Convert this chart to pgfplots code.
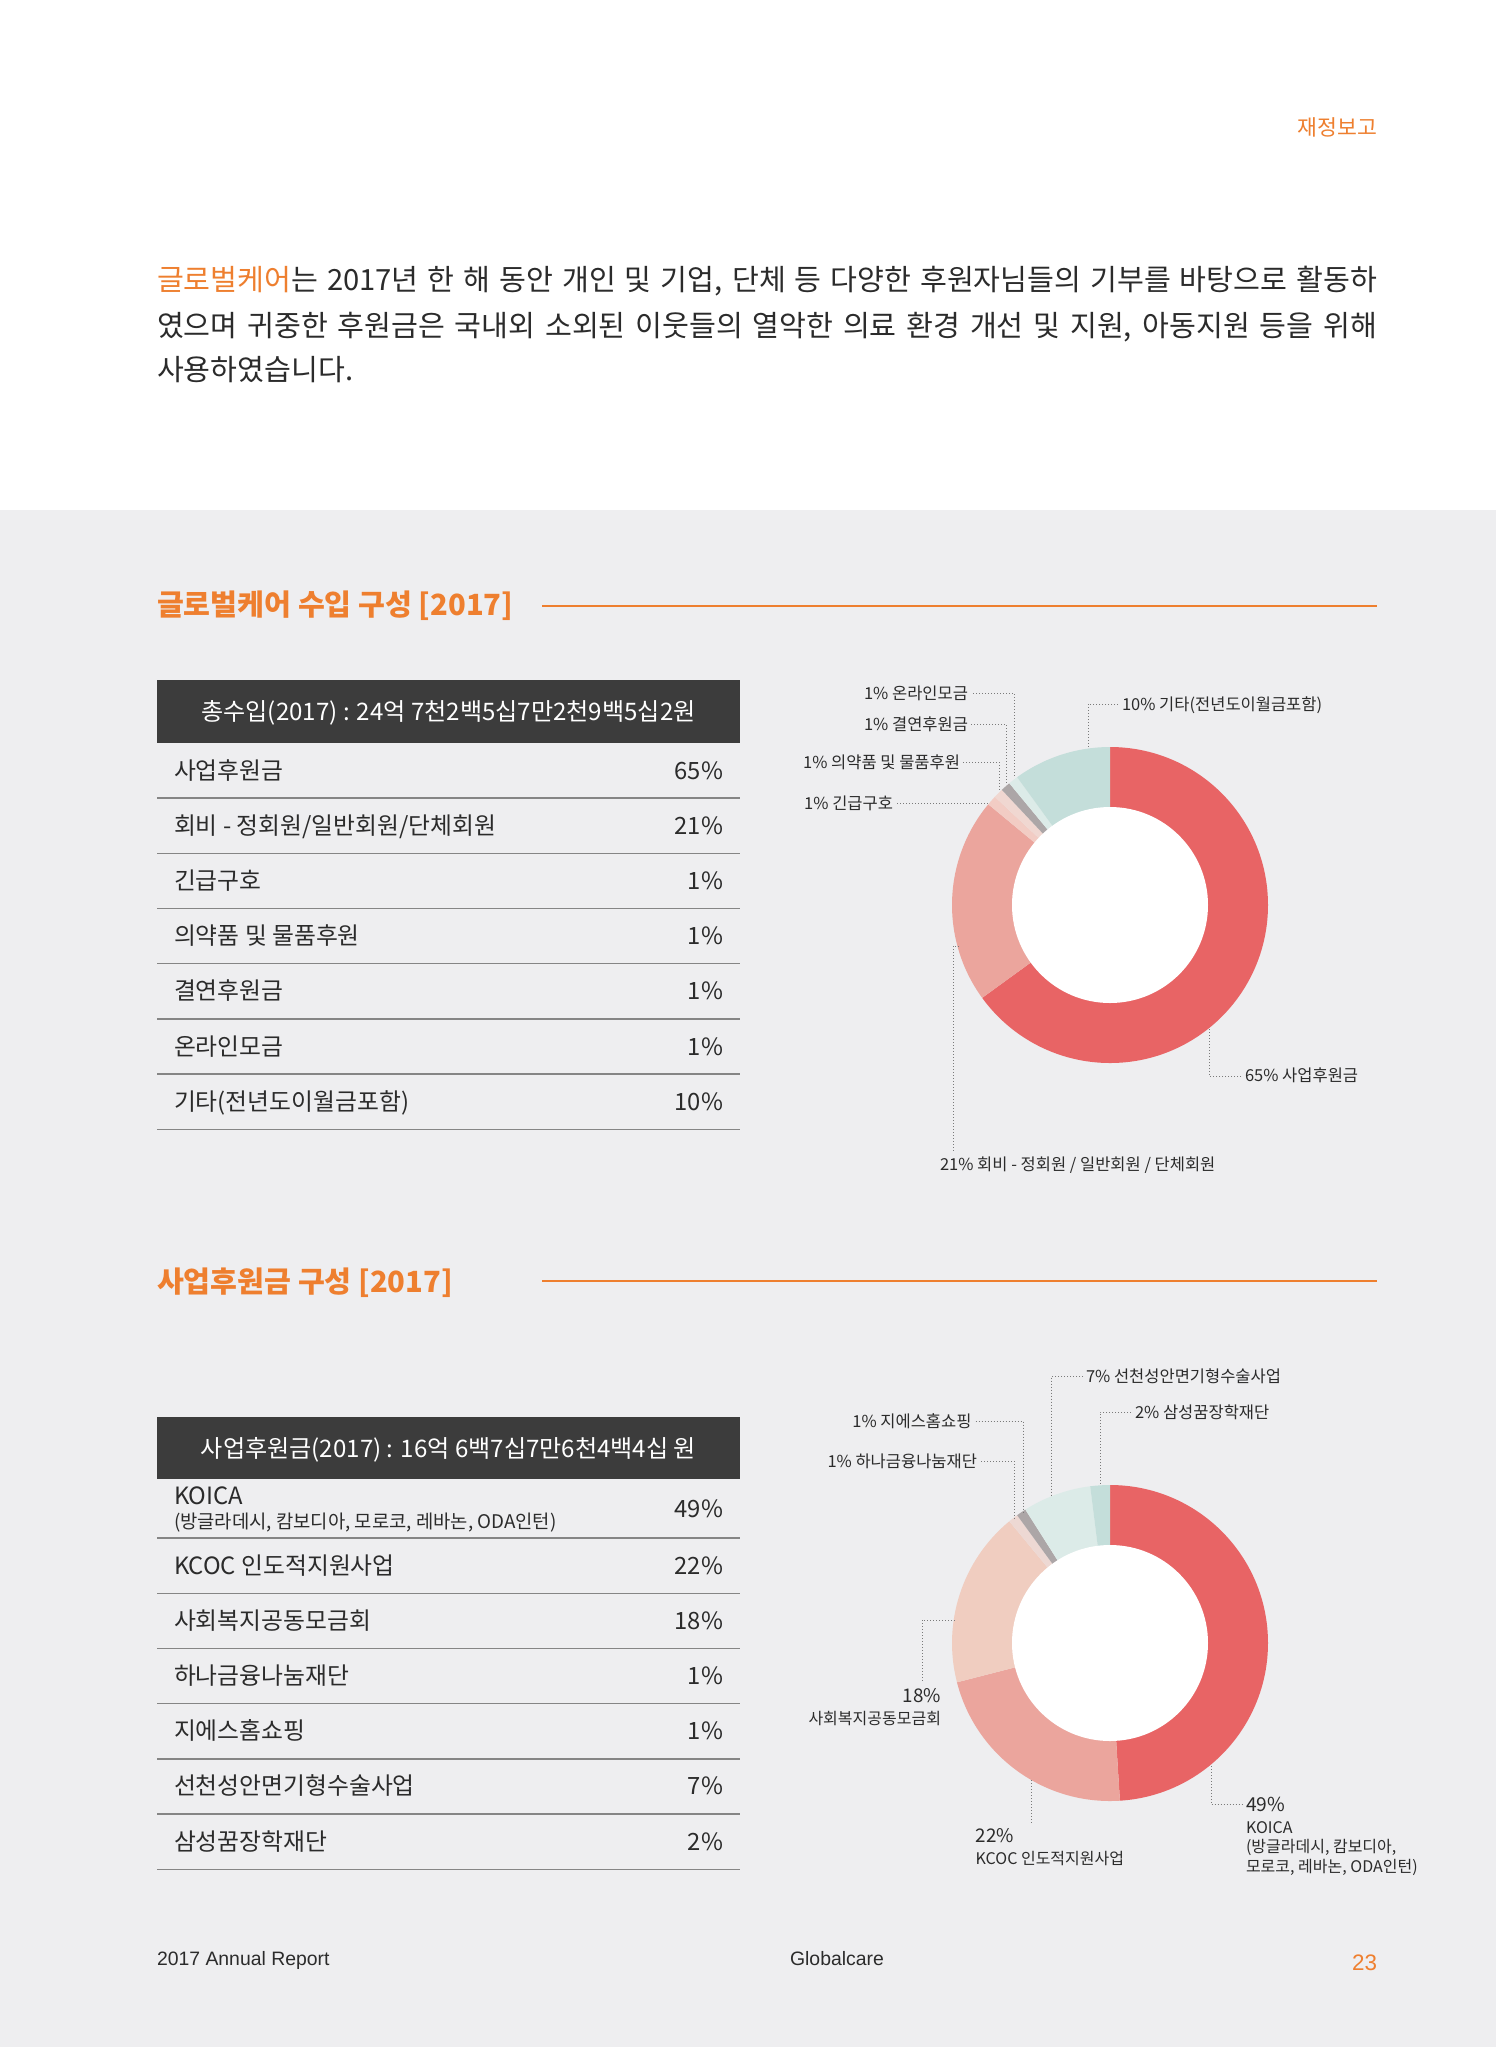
\documentclass[border=0pt]{standalone}
\usepackage{pgfplots}
\pgfplotsset{compat=1.18}
\usepackage{pgfplotstable}
\usepackage{fontspec}
\setmainfont{Noto Sans CJK KR}
\newfontfamily\latinfont{Liberation Sans}
\definecolor{bggray}{HTML}{EEEEF0}
\definecolor{orng}{HTML}{EE7F2F}
\definecolor{hdr}{HTML}{3C3C3C}
\definecolor{txt}{HTML}{2B2B2B}
\definecolor{rulec}{HTML}{858585}
\definecolor{leadc}{HTML}{7A7A7A}
\definecolor{cRed}{HTML}{E86465}
\definecolor{cSalmon}{HTML}{EBA59D}
\definecolor{cPink}{HTML}{F2CCC4}
\definecolor{cPinkB}{HTML}{F0D7D1}
\definecolor{cGray}{HTML}{ACA6A7}
\definecolor{cLTeal}{HTML}{DCEBE8}
\definecolor{cTeal}{HTML}{C4DEDA}
\definecolor{cPeach}{HTML}{F0CDC0}
\definecolor{cPinkC}{HTML}{EDD8D3}

\pgfplotstableread{
share color
65 cRed
21 cSalmon
1 cPink
1 cPinkB
1 cGray
1 cLTeal
10 cTeal
}\incometable
\pgfplotstableread{
share color
49 cRed
22 cSalmon
18 cPeach
1 cPinkC
1 cGray
7 cLTeal
2 cTeal
}\businesstable

\newcommand\donutR{79pt}
\newcommand\donutr{49pt}
\newcommand\donutslices[1]{%
  \pgfplotstablegetrowsof{#1}%
  \pgfmathtruncatemacro\lastrow{\pgfplotsretval-1}%
  \gdef\cumshare{0}%
  \pgfplotsforeachungrouped \rr in {0,...,\lastrow}{%
    \pgfplotstablegetelem{\rr}{share}\of{#1}\let\sliceval\pgfplotsretval
    \pgfplotstablegetelem{\rr}{color}\of{#1}\let\slicecol\pgfplotsretval
    \pgfmathsetmacro\angA{90-3.6*\cumshare}%
    \pgfmathsetmacro\angB{90-3.6*(\cumshare+\sliceval)}%
    \pgfmathsetmacro\newcum{\cumshare+\sliceval}%
    \xdef\cumshare{\newcum}%
    \edef\doslice{\noexpand\fill[\slicecol] (axis cs:0,0) -- (axis cs:{cos(\angA)},{sin(\angA)}) arc[start angle=\angA, end angle=\angB, radius=\noexpand\donutR] -- cycle;}%
    \doslice
  }%
  \fill[white] (axis cs:0,0) circle[radius=\donutr];
}
\newcommand\fs[1]{\fontsize{#1}{#1}\selectfont}

\begin{document}
\begin{tikzpicture}[x=0.5pt,y=-0.5pt,
  every node/.style={inner sep=0pt, outer sep=0pt, text=txt},
  lead/.style={leadc, line width=0.5pt, dash pattern=on 0.5pt off 1pt}]
\useasboundingbox (0,0) rectangle (1496,2047);
\fill[white] (0,0) rectangle (1496,510);
\fill[bggray] (0,510) rectangle (1496,2047);
\coordinate (dA) at (1110,905);
\coordinate (dB) at (1110,1643);

% header
\node[anchor=base east, text=orng, font=\fs{10.8}] at (1377,135) {재정보고};

% body text
\node[anchor=base west, font=\fs{14.6}] at (157,290) {\makebox[610pt][s]{\textcolor{orng}{글로벌케어}는 2017년 한 해 동안 개인 및 기업, 단체 등 다양한 후원자님들의 기부를 바탕으로 활동하}};
\node[anchor=base west, font=\fs{14.6}] at (157,336) {\makebox[610pt][s]{였으며 귀중한 후원금은 국내외 소외된 이웃들의 열악한 의료 환경 개선 및 지원, 아동지원 등을 위해}};
\node[anchor=base west, font=\fs{14.6}] at (157,380) {사용하였습니다.};

% section 1 title
\node[anchor=base west, text=orng, font=\fs{14.6}\bfseries] at (157,615) {글로벌케어 수입 구성 [2017]};
\draw[orng, line width=0.8pt] (542,606) -- (1377,606);

% table 1
\fill[hdr] (157,680) rectangle (740,743);
\node[anchor=base, text=white, font=\fs{12.05}] at (448.5,720.5) {총수입(2017) : 24억 7천2백5십7만2천9백5십2원};
\foreach \k in {0,...,6}{\draw[rulec, line width=0.7pt] (157,798+55.2*\k) -- (740,798+55.2*\k);}
\foreach \name/\pct [count=\k from 0] in {사업후원금/65, {회비 - 정회원/일반회원/단체회원}/21, 긴급구호/1, 의약품 및 물품후원/1, 결연후원금/1, 온라인모금/1, 기타(전년도이월금포함)/10}{
  \node[anchor=base west, font=\fs{11.9}] at (174,779+55.2*\k) {\name};
  \node[anchor=base east, font=\fs{11.9}] at (723,779+55.2*\k) {\pct\%};
}

% donut 1
\begin{axis}[at={(dA)}, anchor=origin, x=79pt, y=79pt,
  xmin=-1.05, xmax=1.05, ymin=-1.05, ymax=1.05, hide axis, clip=false]
\donutslices{\incometable}
\end{axis}

\draw[lead] (973,693) -- (1014,693) -- (1014,777);
\draw[lead] (971,724) -- (1006,724) -- (1006,784);
\draw[lead] (963,762) -- (999,762) -- (999,792);
\draw[lead] (897,803) -- (990,803);
\draw[lead] (1118,704) -- (1088,704) -- (1088,748);
\draw[lead] (1241,1076) -- (1209,1076) -- (1209,1028);
\draw[lead] (959,946) -- (953,946) -- (953,1151);
\node[anchor=base east, font=\fs{8.25}] at (968,699) {1\% 온라인모금};
\node[anchor=base east, font=\fs{8.25}] at (968,730) {1\% 결연후원금};
\node[anchor=base east, font=\fs{8.25}] at (960,768.5) {1\% 의약품 및 물품후원};
\node[anchor=base east, font=\fs{8.25}] at (893,809) {1\% 긴급구호};
\node[anchor=base west, font=\fs{8.25}] at (1122,710) {10\% 기타(전년도이월금포함)};
\node[anchor=base west, font=\fs{8.25}] at (1245,1081.5) {65\% 사업후원금};
\node[anchor=base west, font=\fs{8.25}] at (940,1170.5) {21\% 회비 - 정회원 / 일반회원 / 단체회원};

% section 2 title
\node[anchor=base west, text=orng, font=\fs{14.6}\bfseries] at (157,1292) {사업후원금 구성 [2017]};
\draw[orng, line width=0.8pt] (542,1281) -- (1377,1281);

% table 2
\fill[hdr] (157,1417) rectangle (740,1479);
\node[anchor=base, text=white, font=\fs{12.05}] at (448.5,1457.5) {사업후원금(2017) : 16억 6백7십7만6천4백4십 원};
\foreach \k in {0,...,6}{\draw[rulec, line width=0.7pt] (157,1538+55.2*\k) -- (740,1538+55.2*\k);}
\node[anchor=base west, font=\fs{11.9}] at (174,1504) {KOICA};
\node[anchor=base west, font=\fs{9.4}] at (174,1528) {(방글라데시, 캄보디아, 모로코, 레바논, ODA인턴)};
\node[anchor=base east, font=\fs{11.9}] at (723,1517.5) {49\%};
\foreach \name/\pct [count=\k from 0] in {KCOC 인도적지원사업/22, 사회복지공동모금회/18, 하나금융나눔재단/1, 지에스홈쇼핑/1, 선천성안면기형수술사업/7, 삼성꿈장학재단/2}{
  \node[anchor=base west, font=\fs{11.9}] at (174,1574+55.2*\k) {\name};
  \node[anchor=base east, font=\fs{11.9}] at (723,1574+55.2*\k) {\pct\%};
}

% donut 2
\begin{axis}[at={(dB)}, anchor=origin, x=79pt, y=79pt,
  xmin=-1.05, xmax=1.05, ymin=-1.05, ymax=1.05, hide axis, clip=false]
\donutslices{\businesstable}
\end{axis}

\draw[lead] (1083,1376) -- (1051.5,1376) -- (1051.5,1495);
\draw[lead] (1131,1412) -- (1100,1412) -- (1100,1486);
\draw[lead] (975.7,1421) -- (1023,1421) -- (1023,1512);
\draw[lead] (981,1461) -- (1014,1461) -- (1014,1519);
\draw[lead] (954.7,1620) -- (922,1620) -- (922,1682);
\draw[lead] (1031.7,1780) -- (1031.7,1823.5);
\draw[lead] (1211,1766) -- (1211,1804.5) -- (1243,1804.5);
\node[anchor=base west, font=\fs{8.25}] at (1086,1382) {7\% 선천성안면기형수술사업};
\node[anchor=base west, font=\fs{8.25}] at (1135,1418) {2\% 삼성꿈장학재단};
\node[anchor=base east, font=\fs{8.25}] at (971.5,1427) {1\% 지에스홈쇼핑};
\node[anchor=base east, font=\fs{8.25}] at (977,1467) {1\% 하나금융나눔재단};
\node[anchor=base east, font=\fs{9.4}] at (941,1702.5) {18\%};
\node[anchor=base east, font=\fs{8}] at (941,1724.5) {사회복지공동모금회};
\node[anchor=base west, font=\fs{9.4}] at (975.7,1842) {22\%};
\node[anchor=base west, font=\fs{8}] at (975.7,1864) {KCOC 인도적지원사업};
\node[anchor=base west, font=\fs{9.6}] at (1246,1811) {49\%};
\node[anchor=base west, font=\fs{8}] at (1246,1833) {KOICA};
\node[anchor=base west, font=\fs{8}] at (1246,1852.5) {(방글라데시, 캄보디아,};
\node[anchor=base west, font=\fs{8}] at (1246,1872.5) {모로코, 레바논, ODA인턴)};

% footer
\node[anchor=base west, font=\latinfont\fs{9.7}] at (157,1965) {2017 Annual Report};
\node[anchor=base, font=\latinfont\fs{9.7}] at (837,1965) {Globalcare};
\node[anchor=base east, text=orng, font=\latinfont\fs{11.2}] at (1377,1970.5) {23};
\end{tikzpicture}
\end{document}
